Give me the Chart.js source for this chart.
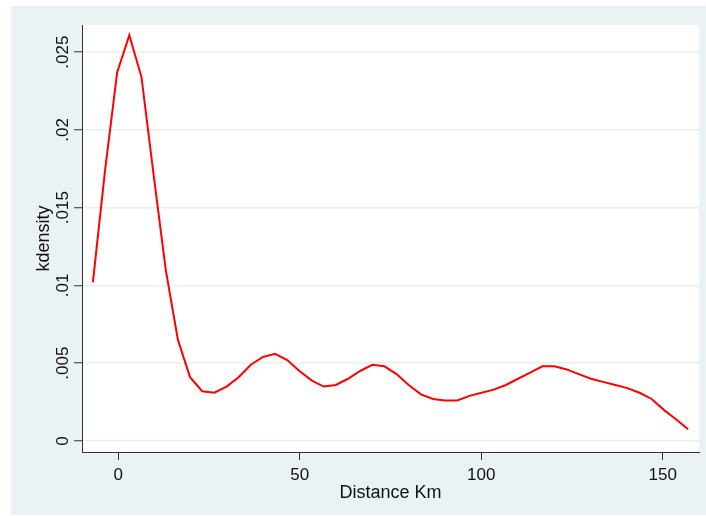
<!DOCTYPE html>
<html>
<head>
<meta charset="utf-8">
<script src="https://cdn.jsdelivr.net/npm/chart.js@4.4.1/dist/chart.umd.min.js"></script>
<style>
  body { margin: 0; background: #ffffff; }
  canvas { display: block; }
</style>
</head>
<body>
<canvas id="kdensityChart" width="706" height="516"></canvas>
<script>
// distance (km) at each estimation point
const distanceKm = [
  -7.0, -3.65, -0.31, 3.04, 6.39, 9.74, 13.08, 16.43, 19.78, 23.12,
  26.47, 29.82, 33.16, 36.51, 39.86, 43.2, 46.55, 49.9, 53.24, 56.59,
  59.94, 63.29, 66.63, 69.98, 73.33, 76.67, 80.02, 83.37, 86.71, 90.06,
  93.41, 96.76, 100.1, 103.45, 106.8, 110.14, 113.49, 116.84, 120.18, 123.53,
  126.88, 130.22, 133.57, 136.92, 140.27, 143.61, 146.96, 150.31, 153.65, 157.0
];

// kdensity values
const kdensity = [
  0.0102, 0.0174, 0.0237, 0.0261, 0.0234, 0.0171, 0.0110, 0.0065, 0.0041, 0.0032,
  0.0031, 0.0035, 0.0041, 0.0049, 0.0054, 0.0056, 0.0052, 0.0045, 0.0039, 0.0035,
  0.0036, 0.0040, 0.0045, 0.0049, 0.0048, 0.0043, 0.0036, 0.0030, 0.0027, 0.0026,
  0.0026, 0.0029, 0.0031, 0.0033, 0.0036, 0.0040, 0.0044, 0.0048, 0.0048, 0.0046,
  0.0043, 0.0040, 0.0038, 0.0036, 0.0034, 0.0031, 0.0027, 0.0020, 0.0014, 0.00075
];

const xTicks = [0, 50, 100, 150];
const yTicks = [0, 0.005, 0.01, 0.015, 0.02, 0.025];
const yTickLabels = ["0", ".005", ".01", ".015", ".02", ".025"];

const FONT = "'Liberation Sans', Arial, sans-serif";

// stata style background + white plot region
const backgroundPanel = {
  id: "backgroundPanel",
  beforeDraw: function (chart) {
    const ctx = chart.ctx;
    const area = chart.chartArea;
    ctx.save();
    ctx.fillStyle = "#eaf2f3";
    ctx.fillRect(11, 6, chart.width - 11, 509);
    ctx.fillStyle = "#ffffff";
    ctx.fillRect(area.left, area.top, area.right - area.left, area.bottom - area.top);
    ctx.restore();
  },
};

const ctx = document.getElementById("kdensityChart").getContext("2d");
new Chart(ctx, {
  type: "line",
  data: {
    datasets: [
      {
        data: distanceKm.map((d, i) => ({ x: d, y: kdensity[i] })),
        borderColor: "#ff0000",
        backgroundColor: "transparent",
        borderWidth: 2,
        pointRadius: 0,
        tension: 0,
      },
    ],
  },
  options: {
    responsive: false,
    devicePixelRatio: 1,
    animation: false,
    layout: {
      padding: { top: 25, right: 7, left: 0, bottom: 0 },
    },
    plugins: {
      legend: { display: false },
      tooltip: { enabled: false },
    },
    scales: {
      x: {
        type: "linear",
        min: -10,
        max: 160,
        afterBuildTicks: function (scale) {
          scale.ticks = xTicks.map((v) => ({ value: v }));
        },
        afterFit: function (scale) {
          scale.height = 64;
        },
        grid: {
          drawOnChartArea: false,
          tickLength: 8,
          tickColor: "#333333",
          tickWidth: 1,
        },
        border: { display: true, color: "#333333", width: 1 },
        ticks: {
          autoSkip: false,
          maxRotation: 0,
          padding: 5,
          color: "#111111",
          font: { family: FONT, size: 17 },
        },
        title: {
          display: true,
          text: "Distance Km",
          color: "#111111",
          font: { family: FONT, size: 18 },
          padding: { top: 0, bottom: 12 },
        },
      },
      y: {
        type: "linear",
        min: -0.00071,
        max: 0.02675,
        afterBuildTicks: function (scale) {
          scale.ticks = yTicks.map((v) => ({ value: v }));
        },
        afterFit: function (scale) {
          scale.width = 82;
        },
        grid: {
          color: "#e8eff1",
          lineWidth: 1.5,
          tickLength: 8,
          tickColor: "#333333",
          tickWidth: 1,
        },
        border: { display: true, color: "#333333", width: 1 },
        ticks: {
          autoSkip: false,
          minRotation: 90,
          maxRotation: 90,
          crossAlign: "center",
          padding: -6,
          color: "#111111",
          font: { family: FONT, size: 17 },
          callback: function (value) {
            const idx = yTicks.findIndex((t) => Math.abs(t - value) < 1e-9);
            return idx >= 0 ? yTickLabels[idx] : "";
          },
        },
        title: {
          display: true,
          text: "kdensity",
          color: "#111111",
          font: { family: FONT, size: 18 },
          padding: { top: 33, bottom: 0 },
        },
      },
    },
  },
  plugins: [backgroundPanel],
});
</script>
</body>
</html>
